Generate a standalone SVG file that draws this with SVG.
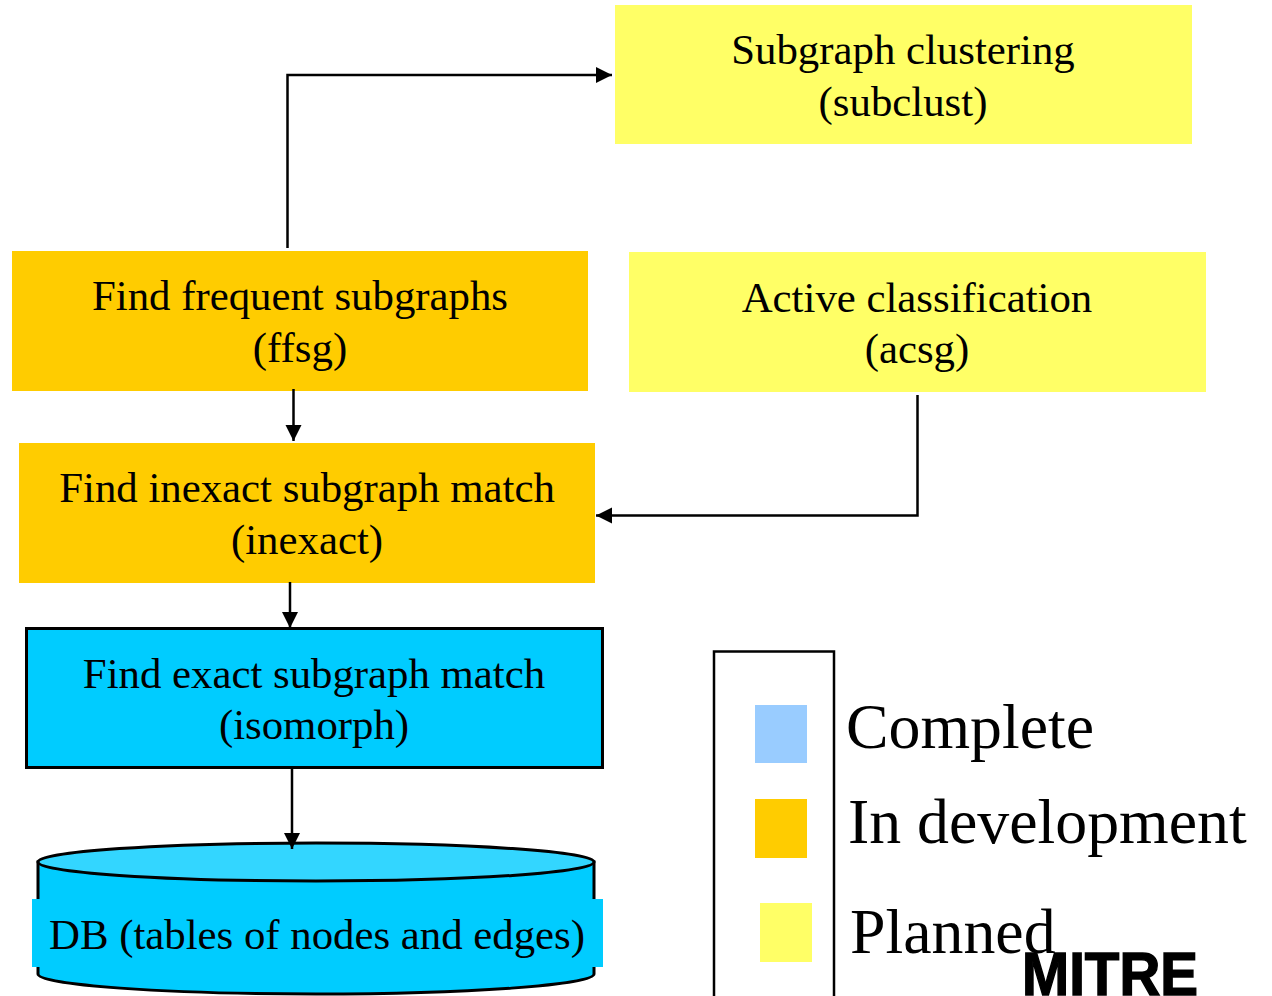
<svg xmlns="http://www.w3.org/2000/svg" width="1272" height="996" viewBox="0 0 1272 996">
<style>
text{font-family:"Liberation Serif","Times New Roman",serif;fill:#000}
.n{font-size:42.800px;text-anchor:middle}
.l{font-size:63.800px}
.c{fill:none;stroke:#000;stroke-width:2.500}
</style>
<defs><marker id="a" markerUnits="userSpaceOnUse" markerWidth="18" markerHeight="18" refX="16" refY="8" orient="auto"><path d="M0 0L16 8L0 16Z" fill="#000"/></marker></defs>
<rect width="1272" height="996" fill="#fff"/>
<g id="subclust"><rect x="615" y="5" width="577" height="139" fill="#ffff66"/><text class="n" x="903" y="64">Subgraph clustering</text><text class="n" x="903" y="116">(subclust)</text></g>
<g id="ffsg"><rect x="12" y="251" width="576" height="140" fill="#ffcc00"/><text class="n" x="300" y="310">Find frequent subgraphs</text><text class="n" x="300" y="362">(ffsg)</text></g>
<g id="acsg"><rect x="629" y="252" width="577" height="140" fill="#ffff66"/><text class="n" x="917" y="312">Active classification</text><text class="n" x="917" y="363">(acsg)</text></g>
<g id="inexact"><rect x="19" y="443" width="576" height="140" fill="#ffcc00"/><text class="n" x="307" y="502">Find inexact subgraph match</text><text class="n" x="307" y="554">(inexact)</text></g>
<g id="isomorph"><rect x="26.500" y="628.500" width="576" height="139" fill="#00ccff" stroke="#000" stroke-width="3"/><text class="n" x="314" y="688">Find exact subgraph match</text><text class="n" x="314" y="739">(isomorph)</text></g>
<g id="db">
<path d="M38 862V974C38 985 165 994 316 994S594 985 594 974V862Z" fill="#00ccff" stroke="#000" stroke-width="3"/>
<ellipse cx="316" cy="862" rx="278" ry="19" fill="#33d6ff" stroke="#000" stroke-width="3"/>
<rect x="32" y="899" width="571" height="68" fill="#00ccff"/>
<text class="n" x="317" y="949">DB (tables of nodes and edges)</text></g>
<g id="connectors">
<path class="c" d="M287.500 248V75H612" marker-end="url(#a)"/>
<path class="c" d="M293.500 389V441" marker-end="url(#a)"/>
<path class="c" d="M917.500 395V515.500H596" marker-end="url(#a)"/>
<path class="c" d="M290 582V628" marker-end="url(#a)"/>
<path class="c" d="M292 768V849" marker-end="url(#a)"/>
</g>
<g id="legend">
<rect x="714" y="651.500" width="120" height="360" fill="none" stroke="#000" stroke-width="2.500"/>
<rect x="755" y="705" width="52" height="58" fill="#99ccff"/>
<rect x="755" y="799" width="52" height="59" fill="#ffcc00"/>
<rect x="760" y="903" width="52" height="59" fill="#ffff66"/>
<text class="l" x="846" y="748">Complete</text>
<text class="l" x="848" y="843">In development</text>
<text class="l" x="850" y="953">Planned</text>
</g>
<g id="logo"><text x="1022" y="995" font-size="62" font-weight="700" textLength="176" lengthAdjust="spacingAndGlyphs" stroke="#000" stroke-width="1.500" style="font-family:'Liberation Sans',Arial,sans-serif">MITRE</text></g>
</svg>
